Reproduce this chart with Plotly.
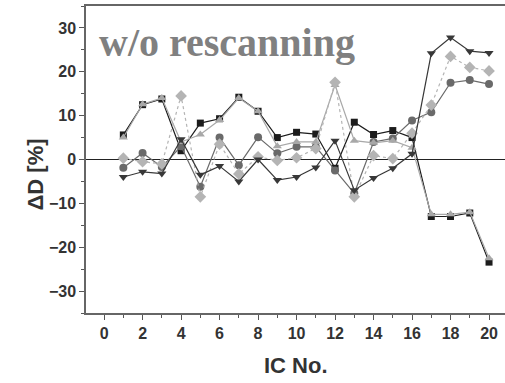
import plotly.graph_objects as go

ic = list(range(1, 21))

sq = [5.6, 12.5, 13.8, 2.0, 8.3, 9.3, 14.2, 11.0, 5.0, 6.2, 5.8, -2.0, 8.5, 5.7, 6.6, 5.0, -13.0, -13.0, -12.2, -23.4]
circ = [-1.9, 1.5, -1.7, 3.0, -6.2, 5.0, -1.3, 5.1, 1.4, 2.9, 2.9, -2.5, -7.7, 4.0, 4.8, 8.9, 10.8, 17.5, 18.1, 17.2]
tri_up = [5.0, 12.6, 14.0, 4.0, 5.7, 9.0, 14.0, 11.0, 3.0, 4.0, 4.0, 17.0, 4.3, 3.8, 4.3, 2.7, -12.5, -12.5, -12.0, -22.5]
diam = [0.3, -0.5, -1.0, 14.5, -8.5, 3.5, -3.3, 0.6, -0.2, 0.4, 2.5, 17.6, -8.5, 0.9, 0.2, 6.0, 12.4, 23.5, 21.0, 20.2]
tri_dn = [-4.0, -2.8, -3.2, 4.6, -3.5, -1.5, -5.0, 0.0, -4.7, -4.0, -1.8, 4.3, -7.0, -4.2, -2.0, 1.3, 24.2, 27.8, 24.7, 24.3]

series = [
    ("squares", sq, "square", "#1c1c1c", 7, "solid"),
    ("circles", circ, "circle", "#6a6a6a", 8, "solid"),
    ("tri_up", tri_up, "triangle-up", "#a8a8a8", 8, "solid"),
    ("diamonds", diam, "diamond", "#b4b4b4", 9, "dot"),
    ("tri_dn", tri_dn, "triangle-down", "#383838", 8, "solid"),
]

fig = go.Figure()
for name, vals, sym, col, sz, dash in series:
    fig.add_trace(go.Scatter(
        x=ic, y=vals, mode="lines+markers", name=name,
        line=dict(color=col, width=1.2, dash=dash),
        marker=dict(symbol=sym, size=sz, color=col),
        showlegend=False,
    ))

fig.add_hline(y=0, line=dict(color="#222", width=1.2), layer="below")

W, H = 505, 383
L, R, T, B = 86, 0, 6, 70
pw, ph = W - L - R, H - T - B

fig.update_layout(
    width=W, height=H,
    margin=dict(l=L, r=R, t=T, b=B),
    paper_bgcolor="white", plot_bgcolor="white",
    xaxis=dict(
        range=[-0.94, 20.83], tickmode="array", tickvals=list(range(0, 21, 2)),
        showgrid=False, zeroline=False, showline=True, mirror=True,
        linecolor="#666", linewidth=1.5,
        ticks="outside", ticklen=5, tickcolor="#555", tickwidth=1.2,
        minor=dict(dtick=1, ticks="outside", ticklen=3, tickcolor="#555", tickwidth=1),
        tickfont=dict(family="Liberation Sans", size=16, color="#333", weight="bold"),
    ),
    yaxis=dict(
        range=[-35, 35], tickmode="array", tickvals=[-30, -20, -10, 0, 10, 20, 30],
        showgrid=False, zeroline=False, showline=True,
        linecolor="#666", linewidth=1.5,
        ticks="outside", ticklen=5, tickcolor="#555", tickwidth=1.2,
        minor=dict(dtick=5, ticks="outside", ticklen=3, tickcolor="#555", tickwidth=1),
        tickfont=dict(family="Liberation Sans", size=16, color="#333", weight="bold"),
    ),
    annotations=[
        dict(text="w/o rescanning", x=(97 - L) / pw, y=1 - (18 - T) / ph,
             xref="paper", yref="paper",
             xanchor="left", yanchor="top", showarrow=False,
             font=dict(family="Liberation Serif", size=40, color="#808080", weight="bold")),
        dict(text="IC No.", x=(296 - L) / pw, y=0, xref="paper", yref="paper",
             xanchor="center", yanchor="middle", yshift=-52, showarrow=False,
             font=dict(family="Liberation Sans", size=22, color="#333", weight="bold")),
        dict(text="ΔD [%]", x=0, y=0.5, xref="paper", yref="paper", textangle=-90,
             xanchor="center", yanchor="middle", xshift=-51, yshift=-15, showarrow=False,
             font=dict(family="Liberation Sans", size=22, color="#333", weight="bold")),
    ],
)

fig.write_html("out.html")
